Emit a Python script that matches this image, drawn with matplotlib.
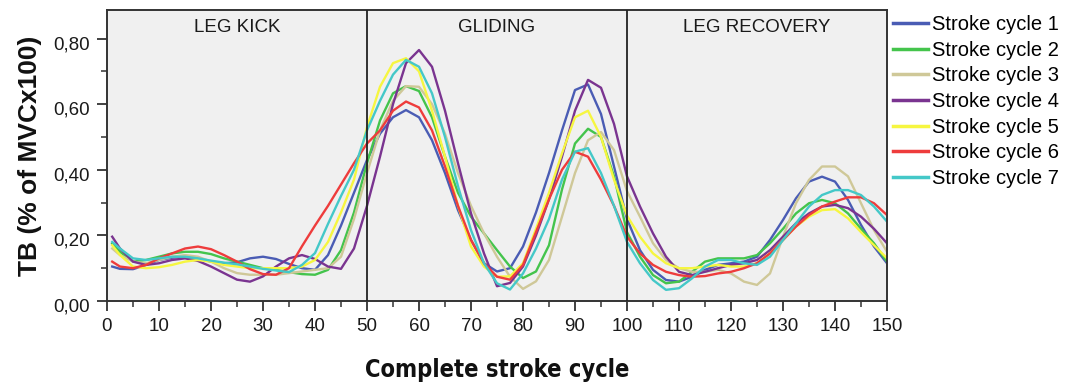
import matplotlib
matplotlib.use("Agg")
import matplotlib.pyplot as plt
import matplotlib.transforms as mtrans
from matplotlib.ticker import MultipleLocator, FuncFormatter

# ---- data -------------------------------------------------------------
x = [1, 2.5, 5, 7.5, 10, 12.5, 15, 17.5, 20, 22.5, 25, 27.5, 30, 32.5, 35,
     37.5, 40, 42.5, 45, 47.5, 50, 52.5, 55, 57.5, 60, 62.5, 65, 67.5, 70,
     72.5, 75, 77.5, 80, 82.5, 85, 87.5, 90, 92.5, 95, 97.5, 100, 102.5, 105,
     107.5, 110, 112.5, 115, 117.5, 120, 122.5, 125, 127.5, 130, 132.5, 135,
     137.5, 140, 142.5, 145, 147.5, 150]

cycle1 = [0.105, 0.098, 0.097, 0.11, 0.125, 0.132, 0.135, 0.13, 0.12, 0.115,
          0.118, 0.13, 0.135, 0.128, 0.113, 0.10, 0.095, 0.14, 0.23, 0.33,
          0.43, 0.51, 0.56, 0.582, 0.56, 0.49, 0.39, 0.277, 0.186, 0.115,
          0.09, 0.10, 0.166, 0.27, 0.39, 0.52, 0.643, 0.66, 0.57, 0.41,
          0.25, 0.155, 0.095, 0.064, 0.059, 0.074, 0.095, 0.11, 0.115, 0.12,
          0.135, 0.186, 0.247, 0.313, 0.364, 0.379, 0.364, 0.308, 0.232,
          0.166, 0.115]
cycle2 = [0.175, 0.15, 0.12, 0.125, 0.135, 0.145, 0.15, 0.15, 0.143, 0.13,
          0.12, 0.11, 0.10, 0.095, 0.088, 0.082, 0.08, 0.095, 0.155, 0.27,
          0.42, 0.55, 0.633, 0.655, 0.64, 0.56, 0.44, 0.33, 0.257, 0.206,
          0.155, 0.105, 0.07, 0.09, 0.17, 0.34, 0.48, 0.525, 0.50, 0.38,
          0.21, 0.135, 0.079, 0.054, 0.059, 0.089, 0.12, 0.13, 0.13, 0.13,
          0.14, 0.176, 0.22, 0.267, 0.298, 0.308, 0.298, 0.267, 0.22,
          0.176, 0.12]
cycle3 = [0.16, 0.14, 0.12, 0.115, 0.125, 0.135, 0.14, 0.135, 0.12, 0.10,
          0.085, 0.08, 0.08, 0.08, 0.085, 0.09, 0.095, 0.10, 0.135, 0.25,
          0.39, 0.52, 0.61, 0.655, 0.653, 0.60, 0.51, 0.39, 0.29, 0.206,
          0.135, 0.074, 0.037, 0.06, 0.125, 0.257, 0.39, 0.49, 0.515, 0.46,
          0.335, 0.257, 0.176, 0.125, 0.10, 0.089, 0.089, 0.095, 0.084, 0.059,
          0.049, 0.084, 0.196, 0.298, 0.369, 0.41, 0.41, 0.38, 0.298,
          0.216, 0.15]
cycle4 = [0.196, 0.16, 0.12, 0.11, 0.115, 0.125, 0.13, 0.122, 0.105, 0.085,
          0.065, 0.059, 0.075, 0.105, 0.13, 0.14, 0.128, 0.105, 0.098, 0.16,
          0.29, 0.44, 0.60, 0.725, 0.765, 0.714, 0.58, 0.42, 0.267, 0.145,
          0.045, 0.055, 0.105, 0.20, 0.31, 0.44, 0.58, 0.674, 0.65, 0.54,
          0.38, 0.288, 0.206, 0.135, 0.089, 0.079, 0.089, 0.10, 0.11, 0.115,
          0.125, 0.155, 0.196, 0.237, 0.267, 0.288, 0.293, 0.283, 0.257,
          0.22, 0.176]
cycle5 = [0.17, 0.14, 0.105, 0.10, 0.103, 0.11, 0.12, 0.125, 0.12, 0.11,
          0.105, 0.10, 0.10, 0.10, 0.10, 0.105, 0.125, 0.18, 0.27, 0.37,
          0.53, 0.653, 0.725, 0.74, 0.70, 0.58, 0.44, 0.29, 0.166, 0.105,
          0.074, 0.075, 0.115, 0.22, 0.33, 0.45, 0.56, 0.58, 0.50, 0.37,
          0.26, 0.196, 0.145, 0.115, 0.10, 0.10, 0.105, 0.11, 0.105, 0.105,
          0.115, 0.145, 0.186, 0.227, 0.257, 0.277, 0.28, 0.252, 0.21,
          0.17, 0.13]
cycle6 = [0.12, 0.105, 0.10, 0.11, 0.13, 0.145, 0.16, 0.166, 0.158, 0.14,
          0.12, 0.097, 0.082, 0.08, 0.10, 0.167, 0.23, 0.29, 0.355, 0.42,
          0.48, 0.52, 0.58, 0.608, 0.59, 0.52, 0.41, 0.29, 0.186, 0.115,
          0.074, 0.065, 0.11, 0.21, 0.31, 0.40, 0.455, 0.44, 0.37, 0.29,
          0.196, 0.145, 0.11, 0.089, 0.079, 0.074, 0.076, 0.084, 0.089, 0.10,
          0.115, 0.145, 0.186, 0.227, 0.262, 0.288, 0.303, 0.316, 0.316,
          0.298, 0.262]
cycle7 = [0.18, 0.16, 0.13, 0.125, 0.13, 0.135, 0.135, 0.13, 0.123, 0.117,
          0.112, 0.105, 0.098, 0.093, 0.088, 0.11, 0.146, 0.235, 0.32, 0.40,
          0.52, 0.61, 0.69, 0.735, 0.714, 0.633, 0.50, 0.35, 0.216, 0.115,
          0.054, 0.035, 0.084, 0.16, 0.25, 0.37, 0.455, 0.466, 0.39, 0.29,
          0.18, 0.115, 0.064, 0.034, 0.039, 0.069, 0.105, 0.125, 0.125, 0.115,
          0.11, 0.135, 0.186, 0.237, 0.288, 0.323, 0.338, 0.338, 0.323,
          0.288, 0.242]

series = [cycle1, cycle2, cycle3, cycle4, cycle5, cycle6, cycle7]
labels = ["Stroke cycle 1", "Stroke cycle 2", "Stroke cycle 3", "Stroke cycle 4",
          "Stroke cycle 5", "Stroke cycle 6", "Stroke cycle 7"]
colors = ["#4a5cb4", "#44c44c", "#cfc898", "#7a3490", "#f6f640", "#ee3c3c", "#44c8c8"]

phase_names = ["LEG KICK", "GLIDING", "LEG RECOVERY"]
phase_centers = [25, 75, 125]
phase_bounds = [50, 100]

# ---- figure -----------------------------------------------------------
plt.rcParams['font.family'] = ['Liberation Sans', 'DejaVu Sans']
fig = plt.figure(figsize=(10.67, 3.9), dpi=100)
ax = fig.add_axes([107/1067, 1 - 301/390, 780/1067, 291/390])
ax.set_facecolor("#f0f0f0")

for ys, c, lab in zip(series, colors, labels):
    ax.plot(x, ys, color=c, lw=1.7, label=lab, solid_joinstyle='round')

for b in phase_bounds:
    ax.axvline(b, color="#222222", lw=1.3, zorder=5)

for name, cx in zip(phase_names, phase_centers):
    ax.text(cx, 0.835, name, ha='center', va='center', fontsize=13.5, color="#1a1a1a")

ax.set_xlim(0, 150)
ax.set_ylim(0, 0.887)
ax.xaxis.set_major_locator(MultipleLocator(10))
ax.xaxis.set_minor_locator(MultipleLocator(5))
ax.yaxis.set_major_locator(MultipleLocator(0.2))
ax.yaxis.set_minor_locator(MultipleLocator(0.1))
ax.yaxis.set_major_formatter(FuncFormatter(lambda v, p: f"{v:.2f}".replace('.', ',')))
ax.tick_params(which='major', direction='out', length=7.5, width=1.3, color="#333333",
               labelsize=13.5, labelcolor="#1a1a1a")
ax.tick_params(axis='x', which='major', pad=4.5, labelsize=13.5)
ax.tick_params(axis='y', which='major', pad=5)
ax.tick_params(which='minor', direction='out', length=4, width=1.1, color="#333333")
shift = mtrans.ScaledTranslation(0, -4/100, fig.dpi_scale_trans)
for lbl in ax.get_yticklabels():
    lbl.set_transform(lbl.get_transform() + shift)
for sp in ax.spines.values():
    sp.set_color("#333333")
    sp.set_linewidth(1.4)

ax.set_xlabel("Complete stroke cycle", fontsize=17, fontweight='bold',
              fontstretch='condensed', family=['DejaVu Sans'], labelpad=17,
              color="#111111")
ax.set_ylabel("TB (% of MVCx100)", fontsize=19, fontweight='bold', labelpad=8,
              color="#111111")

leg = ax.legend(loc='upper left', bbox_to_anchor=(891/1067, 1 - 13/390),
                bbox_transform=fig.transFigure, frameon=False, fontsize=14.5,
                handlelength=1.75, handletextpad=0.2, labelspacing=0.33,
                borderaxespad=0, borderpad=0.1)
for h in leg.get_lines():
    h.set_linewidth(2.5)

fig.savefig("out.png", dpi=100)
